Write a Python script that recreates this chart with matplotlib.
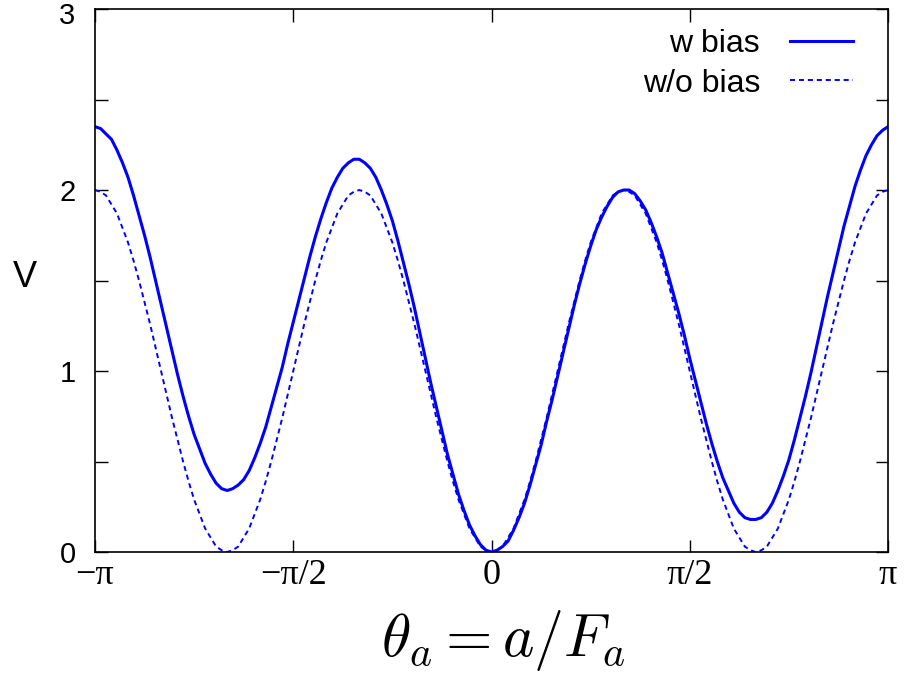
import numpy as np
import matplotlib
matplotlib.use('Agg')
import matplotlib.pyplot as plt
import matplotlib.transforms as mtransforms
from matplotlib.ticker import MultipleLocator

plt.rcParams['mathtext.fontset'] = 'cm'

# angle samples (degrees), read every 2.5 deg from -180 to 180
theta_deg = np.arange(-180, 180.1, 2.5)

# potential with bias (solid curve)
v_bias = [2.35, 2.34, 2.31, 2.28, 2.22, 2.15, 2.07, 1.97, 1.86, 1.75, 1.63, 1.50,
          1.37, 1.24, 1.11, 0.98, 0.86, 0.75, 0.65, 0.57, 0.49, 0.43, 0.38, 0.35,
          0.34, 0.35, 0.37, 0.40, 0.45, 0.52, 0.60, 0.69, 0.80, 0.91, 1.02, 1.15,
          1.27, 1.39, 1.51, 1.63, 1.74, 1.84, 1.93, 2.01, 2.07, 2.12, 2.15, 2.17,
          2.17, 2.15, 2.12, 2.07, 2.00, 1.92, 1.83, 1.72, 1.60, 1.48, 1.35, 1.21,
          1.07, 0.93, 0.80, 0.67, 0.54, 0.43, 0.32, 0.23, 0.15, 0.09, 0.04, 0.01,
          0.00, 0.01, 0.03, 0.06, 0.12, 0.19, 0.27, 0.37, 0.48, 0.59, 0.72, 0.84,
          0.97, 1.10, 1.23, 1.36, 1.48, 1.59, 1.69, 1.78, 1.85, 1.91, 1.96, 1.99,
          2.00, 2.00, 1.98, 1.94, 1.89, 1.82, 1.74, 1.65, 1.54, 1.43, 1.32, 1.20,
          1.07, 0.95, 0.83, 0.71, 0.60, 0.50, 0.41, 0.34, 0.27, 0.22, 0.19, 0.18,
          0.18, 0.19, 0.22, 0.27, 0.34, 0.42, 0.51, 0.62, 0.74, 0.86, 0.99, 1.13,
          1.27, 1.41, 1.54, 1.67, 1.80, 1.91, 2.02, 2.11, 2.19, 2.25, 2.30, 2.33,
          2.35]

# potential without bias (dashed curve)
v_nobias = [2.00, 1.99, 1.97, 1.92, 1.87, 1.79, 1.71, 1.61, 1.50, 1.38, 1.26, 1.13,
            1.00, 0.87, 0.74, 0.62, 0.50, 0.39, 0.29, 0.21, 0.13, 0.08, 0.03, 0.01,
            0.00, 0.01, 0.03, 0.08, 0.13, 0.21, 0.29, 0.39, 0.50, 0.62, 0.74, 0.87,
            1.00, 1.13, 1.26, 1.38, 1.50, 1.61, 1.71, 1.79, 1.87, 1.92, 1.97, 1.99,
            2.00, 1.99, 1.97, 1.92, 1.87, 1.79, 1.71, 1.61, 1.50, 1.38, 1.26, 1.13,
            1.00, 0.87, 0.74, 0.62, 0.50, 0.39, 0.29, 0.21, 0.13, 0.08, 0.03, 0.01,
            0.00, 0.01, 0.03, 0.08, 0.13, 0.21, 0.29, 0.39, 0.50, 0.62, 0.74, 0.87,
            1.00, 1.13, 1.26, 1.38, 1.50, 1.61, 1.71, 1.79, 1.87, 1.92, 1.97, 1.99,
            2.00, 1.99, 1.97, 1.92, 1.87, 1.79, 1.71, 1.61, 1.50, 1.38, 1.26, 1.13,
            1.00, 0.87, 0.74, 0.62, 0.50, 0.39, 0.29, 0.21, 0.13, 0.08, 0.03, 0.01,
            0.00, 0.01, 0.03, 0.08, 0.13, 0.21, 0.29, 0.39, 0.50, 0.62, 0.74, 0.87,
            1.00, 1.13, 1.26, 1.38, 1.50, 1.61, 1.71, 1.79, 1.87, 1.92, 1.97, 1.99,
            2.00]

xtick_vals = [-np.pi, -np.pi / 2, 0, np.pi / 2, np.pi]
xtick_labels = ['\u2212\u03c0', '\u2212\u03c0/2', '0', '\u03c0/2', '\u03c0']

theta = np.deg2rad(theta_deg)

fig = plt.figure(figsize=(9.08, 6.78), dpi=100)
ax = fig.add_axes([0.1046, 0.1858, 0.8734, 0.8009])

ax.plot(theta, v_bias, color='#0000ff', lw=2.2, label='w bias')
ax.plot(theta, v_nobias, color='#0000ff', lw=1.4, dashes=(2.6, 2.0), label='w/o bias')

ax.set_xlim(-np.pi, np.pi)
ax.set_ylim(0, 3)
ax.set_xticks(xtick_vals)
ax.set_xticklabels(xtick_labels, fontsize=26, family='Liberation Serif')
ax.yaxis.set_major_locator(MultipleLocator(1))
ax.yaxis.set_minor_locator(MultipleLocator(0.5))
ax.set_yticks([0, 1, 2, 3])
ax.set_yticklabels(['0', '1', '2', '3'], fontsize=21, family='Liberation Sans')

ax.tick_params(which='both', direction='in', top=True, right=True, length=9, width=1)
ax.tick_params(axis='x', pad=5)
ax.tick_params(axis='y', pad=14)
for s in ax.spines.values():
    s.set_linewidth(1.2)

# keep the top "3" inside the canvas
top_lbl = ax.get_yticklabels()[-1]
top_lbl.set_transform(top_lbl.get_transform() +
                      mtransforms.ScaledTranslation(0, -3 / 72, fig.dpi_scale_trans))

ax.set_ylabel('V', rotation=0, fontsize=26, family='Liberation Sans', va='center', ha='center')
ax.yaxis.set_label_coords(-(95 - 25) / 793, (552 - 277) / 543)
ax.set_xlabel(r'$\theta_a = a/F_a$', fontsize=43, va='center')
ax.xaxis.set_label_coords((503 - 95) / 793, -(640 - 552) / 543)

leg = ax.legend(loc='upper right', frameon=False, markerfirst=False,
                prop={'family': 'Liberation Sans', 'size': 23},
                handlelength=1.97, handletextpad=0.94, labelspacing=0.3,
                borderpad=0, borderaxespad=0,
                bbox_to_anchor=((853 - 95) / 793, (552 - 29) / 543))

fig.savefig('out.png', dpi=100)
